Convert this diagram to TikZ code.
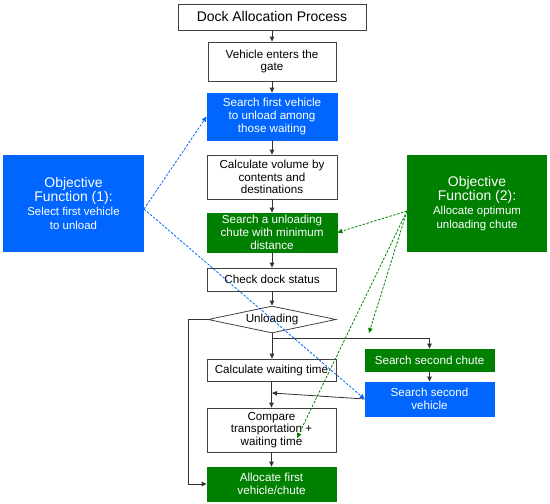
\documentclass[tikz,border=0pt]{standalone}
\usepackage{fontspec}
\setmainfont{Liberation Sans}
\usetikzlibrary{shapes.geometric,arrows.meta}
\definecolor{myblue}{RGB}{0,102,255}
\definecolor{mygreen}{RGB}{0,128,0}
\newcommand{\bigf}{\fontsize{14}{15}\selectfont}
\newcommand{\smf}{\fontsize{11.5}{14}\selectfont}
\begin{document}
\begin{tikzpicture}[x=1bp,y=-1bp,
  box/.style={draw=black!75,line width=0.8pt,rectangle,align=center,inner sep=1pt,
    font=\fontsize{11.7}{12.8}\selectfont},
  bbox/.style={box,draw=myblue,fill=myblue,text=white},
  gbox/.style={box,draw=mygreen,fill=mygreen,text=white},
  obox/.style={rectangle,align=center,inner sep=1pt,text=white,minimum width=141bp,minimum height=97bp,
    font=\smf},
  arr/.style={draw=black!80,line width=0.8pt,-{Triangle[length=5pt,width=4.5pt]}},
  bdash/.style={draw=myblue,dash pattern=on 2.5pt off 1.5pt,line width=0.8pt,-{Triangle[length=5pt,width=4.5pt]}},
  gdash/.style={draw=mygreen,dash pattern=on 2.5pt off 1.5pt,line width=0.8pt,-{Triangle[length=5pt,width=4.5pt]}}
]
\useasboundingbox (0,0) rectangle (550,504);
\node[box,minimum width=188bp,minimum height=26bp,font=\fontsize{14}{16}\selectfont] (title) at (272,17) {Dock Allocation Process};
\node[box,minimum width=128bp,minimum height=39bp] (veh) at (272,61.5) {Vehicle enters the\\gate};
\node[bbox,minimum width=130bp,minimum height=47bp] (sfv) at (272,116.5) {Search first vehicle\\to unload among\\those waiting};
\node[box,minimum width=130bp,minimum height=44bp] (cv) at (272,177) {Calculate volume by\\contents and\\destinations};
\node[gbox,minimum width=130bp,minimum height=39bp] (suc) at (272,232.5) {Search a unloading\\chute with minimum\\distance};
\node[box,minimum width=129bp,minimum height=23bp] (cds) at (272,279.5) {Check dock status};
\node[draw=black!75,line width=0.8pt,diamond,aspect=4.7,minimum width=128bp,minimum height=27bp,inner sep=0pt,
  font=\fontsize{11.7}{12.8}\selectfont] (dia) at (272,319.5) {Unloading};
\node[box,minimum width=129bp,minimum height=22bp] (cwt) at (271.5,370) {Calculate waiting time};
\node[box,minimum width=129bp,minimum height=44bp] (cmp) at (271.5,430) {Compare\\transportation +\\waiting time};
\node[gbox,minimum width=129bp,minimum height=34bp] (afv) at (271.5,484) {Allocate first\\vehicle/chute};
\node[gbox,minimum width=129bp,minimum height=22bp] (ssc) at (429.5,360) {Search second chute};
\node[bbox,minimum width=129bp,minimum height=34bp] (ssv) at (429.5,399) {Search second\\vehicle};
\node[obox,fill=myblue] (obj1) at (73.5,203.5) {\bigf Objective\\\bigf Function (1):\\\smf Select first vehicle\\\smf to unload};
\node[obox,fill=mygreen,minimum width=140bp] (obj2) at (477,203.5) {\bigf Objective\\\bigf Function (2):\\\smf Allocate optimum\\\smf unloading chute};
% coordinates
\coordinate (dl) at (188,319.5);
\coordinate (br) at (272,338);
\coordinate (m) at (272,393);
\coordinate (o1) at (144,209);
\coordinate (o2) at (407,211);
\coordinate (g2) at (369,333);
\coordinate (g3) at (297,438);
% flow arrows
\draw[arr] (title) -- (veh);
\draw[arr] (veh) -- (sfv);
\draw[arr] (sfv) -- (cv);
\draw[arr] (cv) -- (suc);
\draw[arr] (suc) -- (cds);
\draw[arr] (cds) -- (dia);
\draw[arr] (dia.south) -- (cwt.north -| dia.south);
\draw[arr] (cwt.south) -- (cmp.north);
\draw[arr] (cmp) -- (afv);
\draw[arr] (dia.west) -- (dl) |- (afv.west);
\draw[arr] (br) -| (ssc.north);
\draw[arr] (ssc) -- (ssv);
\draw[arr] (ssv.west) -- (m);
% dashed
\draw[bdash] (o1) -- (sfv.west);
\draw[bdash] (o1) -- (ssv.west);
\draw[gdash] (o2) -- (suc.east);
\draw[gdash] (o2) -- (g2);
\draw[gdash] (o2) -- (g3);
\end{tikzpicture}
\end{document}
